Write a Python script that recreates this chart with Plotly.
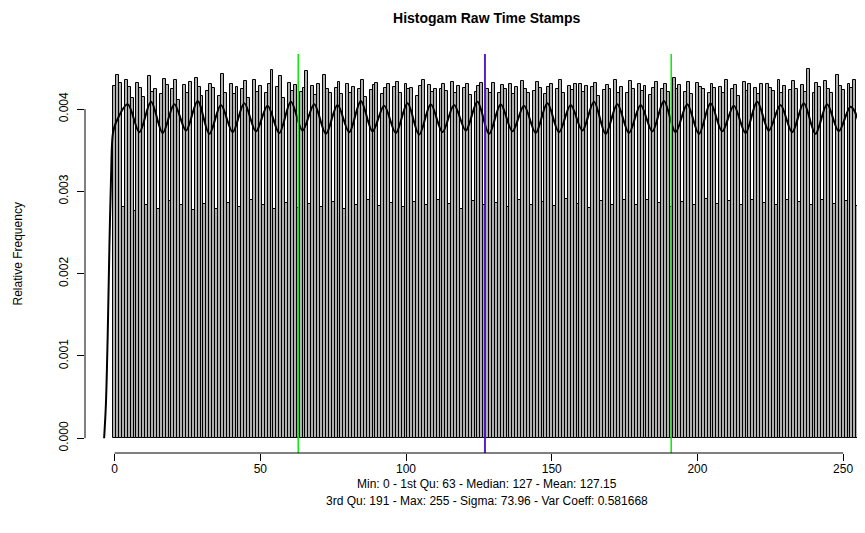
import plotly.graph_objects as go

# histogram bins (raw time stamp value) and relative frequency, in units of 1e-5
values = list(range(256))
rel_freq_e5 = [
    428, 441, 432, 281, 435, 427, 413, 276, 432, 426, 415, 284, 440, 421, 424, 279,
    418, 437, 429, 288, 424, 436, 411, 283, 429, 420, 433, 277, 438, 427, 416, 285,
    422, 431, 426, 279, 416, 443, 420, 286, 430, 418, 427, 281, 425, 434, 414, 290,
    436, 421, 428, 283, 419, 431, 448, 278, 427, 440, 413, 286, 432, 422, 429, 280,
    421, 426, 446, 285, 428, 417, 431, 281, 442, 424, 419, 287, 426, 433, 418, 279,
    431, 420, 427, 284, 425, 436, 415, 289, 423, 429, 432, 282, 418, 426, 430, 286,
    427, 433, 419, 281, 430, 424, 426, 287, 416, 428, 435, 283, 429, 421, 425, 290,
    424, 430, 422, 285, 433, 419, 428, 279, 426, 431, 417, 288, 421, 428, 432, 284,
    425, 419, 432, 286, 420, 429, 424, 281, 431, 418, 427, 289, 434, 425, 420, 283,
    422, 433, 426, 287, 418, 427, 430, 282, 424, 435, 419, 291, 428, 423, 431, 285,
    430, 421, 428, 280, 427, 432, 416, 288, 423, 429, 425, 284, 436, 420, 427, 289,
    419, 434, 425, 283, 431, 422, 428, 290, 417, 426, 433, 286, 425, 430, 421, 281,
    438, 425, 429, 287, 421, 433, 418, 284, 432, 427, 424, 291, 419, 431, 426, 285,
    427, 420, 435, 288, 424, 429, 416, 283, 433, 422, 430, 289, 426, 418, 431, 286,
    431, 426, 422, 284, 436, 419, 428, 290, 423, 434, 425, 287, 429, 421, 449, 283,
    420, 432, 427, 289, 434, 425, 419, 285, 441, 428, 423, 288, 430, 426, 435, 282,
]

# density estimate, units of 1e-5
density_x = [
    -3.6, -3.0, -2.4, -1.8, -1.2, -0.6,
    0.5, 4.5, 8.5, 12.5, 16.5, 20.5, 24.5, 28.5, 32.5, 36.5, 40.5, 44.5,
    48.5, 52.5, 56.5, 60.5, 64.5, 68.5, 72.5, 76.5, 80.5, 84.5, 88.5, 92.5,
    96.5, 100.5, 104.5, 108.5, 112.5, 116.5, 120.5, 124.5, 128.5, 132.5, 136.5, 140.5,
    144.5, 148.5, 152.5, 156.5, 160.5, 164.5, 168.5, 172.5, 176.5, 180.5, 184.5, 188.5,
    192.5, 196.5, 200.5, 204.5, 208.5, 212.5, 216.5, 220.5, 224.5, 228.5, 232.5, 236.5,
    240.5, 244.5, 248.5, 252.5,
    255.0, 256.0, 256.6, 257.2, 257.8,
]
density_e5 = [
    0, 40, 120, 230, 320, 370,
    384, 406, 372, 409, 371, 406, 374, 410, 370, 405, 372, 407,
    373, 404, 371, 409, 374, 406, 370, 405, 372, 410, 373, 404,
    371, 407, 369, 406, 372, 405, 374, 409, 370, 406, 373, 404,
    371, 407, 372, 405, 374, 409, 370, 406, 371, 405, 373, 410,
    372, 406, 370, 407, 373, 404, 371, 409, 374, 405, 372, 407,
    370, 406, 373, 403,
    388, 300, 150, 30, 0,
]

q1, median, mean, q3 = 63, 127, 127.15, 191
x_ticks = [0, 50, 100, 150, 200, 250]
y_ticks = [0, 0.001, 0.002, 0.003, 0.004]

title = "Histogam Raw Time Stamps"
sub1 = "Min: 0 - 1st Qu: 63 - Median: 127 - Mean: 127.15"
sub2 = "3rd Qu: 191 - Max: 255 - Sigma: 73.96 - Var Coeff: 0.581668"

FONT = "Liberation Sans, Arial, sans-serif"

fig = go.Figure()
fig.add_trace(go.Bar(
    x=values,
    y=[h * 1e-5 for h in rel_freq_e5],
    width=1,
    marker=dict(color="#b0b0b0", line=dict(color="black", width=1)),
    showlegend=False,
))
fig.add_trace(go.Scatter(
    x=density_x,
    y=[d * 1e-5 for d in density_e5],
    mode="lines",
    line=dict(color="black", width=2, shape="spline", smoothing=0.9),
    showlegend=False,
))

# quartile / mean / median lines (median drawn over mean, they overlap)
for xv, col, op in [(q1, "#00ee00", 1), (q3, "#00ee00", 1), (mean, "#ff0000", 1), (median, "#0000ff", 0.65)]:
    fig.add_shape(type="line", xref="x", yref="paper", x0=xv, x1=xv, y0=0, y1=1,
                  line=dict(color=col, width=1.5), opacity=op)

# R-style axis lines spanning only the tick range
fig.add_shape(type="line", xref="x", yref="paper", x0=0, x1=250, y0=0, y1=0,
              line=dict(color="black", width=1))
fig.add_shape(type="line", xref="paper", yref="y", x0=0, x1=0, y0=0, y1=0.004,
              line=dict(color="black", width=1))

# page body has an 8px margin, so the figure is 8px smaller than the window
fig.update_layout(
    width=857, height=525,
    margin=dict(l=77, r=0, t=46, b=80),
    plot_bgcolor="white", paper_bgcolor="white",
    bargap=0,
    font=dict(family=FONT, size=12, color="black"),
    title=dict(text="<b>" + title + "</b>", xref="paper", x=0.515, xanchor="center",
               y=0.981, yanchor="middle", font=dict(size=14)),
    xaxis=dict(range=[-10.16, 257.5], tickvals=x_ticks, ticks="outside", ticklen=7,
               tickcolor="black", showgrid=False, zeroline=False, showline=False,
               ticklabelstandoff=-2, tickfont=dict(size=12)),
    yaxis=dict(range=[-0.00018, 0.00467], tickvals=y_ticks, tickformat=".3f",
               tickangle=-90, ticks="outside", ticklen=7, tickcolor="black",
               showgrid=False, zeroline=False, showline=False,
               ticklabelstandoff=4, tickfont=dict(size=12)),
    annotations=[
        dict(text=sub1, xref="paper", yref="paper", x=0.515, y=-0.0777,
             xanchor="center", yanchor="middle", showarrow=False, font=dict(size=12)),
        dict(text=sub2, xref="paper", yref="paper", x=0.515, y=-0.1203,
             xanchor="center", yanchor="middle", showarrow=False, font=dict(size=12)),
        dict(text="Relative Frequency", xref="paper", yref="paper", x=-0.0859, y=0.5,
             xanchor="center", yanchor="middle", textangle=-90, showarrow=False,
             font=dict(size=12)),
    ],
)

fig.write_html("out.html")
